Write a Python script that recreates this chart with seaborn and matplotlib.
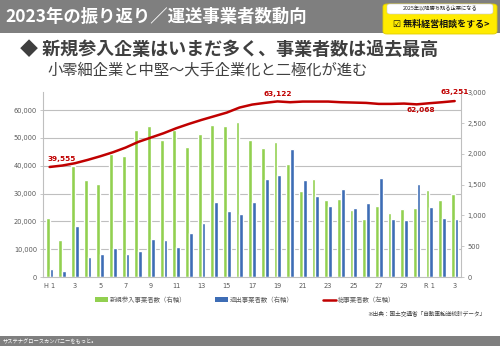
import numpy as np
import pandas as pd
import matplotlib
matplotlib.use("Agg")
import matplotlib.pyplot as plt
import seaborn as sns
from matplotlib.patches import Rectangle, FancyBboxPatch, Patch
from matplotlib.lines import Line2D

# ---------------- data ----------------
years = ["H1", "H2", "H3", "H4", "H5", "H6", "H7", "H8", "H9", "H10",
         "H11", "H12", "H13", "H14", "H15", "H16", "H17", "H18", "H19", "H20",
         "H21", "H22", "H23", "H24", "H25", "H26", "H27", "H28", "H29", "H30",
         "R1", "R2", "R3"]
new_entrants = [964, 606, 1809, 1576, 1505, 1998, 1971, 2393, 2455, 2231,
                2383, 2117, 2318, 2475, 2448, 2518, 2228, 2101, 2198, 1841,
                1402, 1592, 1251, 1262, 1088, 942, 1153, 1040, 1105, 1115,
                1408, 1251, 1354]
exits = [135, 97, 834, 330, 368, 471, 368, 417, 617, 606,
         487, 720, 883, 1213, 1078, 1023, 1221, 1592, 1652, 2074,
         1581, 1316, 1159, 1430, 1115, 1202, 1608, 937, 926, 1511,
         1143, 953, 942]
total_operators = [39555, 40070, 40900, 42090, 43400, 44840, 46520, 48560, 50120, 51680,
                   53475, 55030, 56470, 57790, 59110, 60910, 61990, 62590, 63122, 62830,
                   63070, 63070, 63070, 62830, 62710, 62590, 62230, 62230, 62350, 62068,
                   62470, 62830, 63251]
xtick_labels = ["H 1", "", "3", "", "5", "", "7", "", "9", "", "11", "", "13", "",
                "15", "", "17", "", "19", "", "21", "", "23", "", "25", "", "27", "",
                "29", "", "R 1", "", "3"]
left_ticks = [0, 10000, 20000, 30000, 40000, 50000, 60000]
right_ticks = [0, 500, 1000, 1500, 2000, 2500, 3000]
series_names = ["新規参入事業者数（右軸）", "退出事業者数（右軸）", "総事業者数（左軸）"]
point_labels = {0: "39,555", 18: "63,122", 29: "62,068", 32: "63,251"}

# ---------------- style ----------------
sns.set_style("white")
plt.rcParams["font.family"] = ["Noto Sans CJK JP", "DejaVu Sans"]

GREEN = "#92D050"
BLUE = "#3E6DB5"
RED = "#C00000"
GRID = "#BFBFBF"
TXT = "#595959"

fig = plt.figure(figsize=(5.0, 3.46), dpi=100)
W, H = 500, 346

# header bar
fig.patches.append(Rectangle((0, 1 - 33 / H), 1, 33 / H, transform=fig.transFigure,
                             facecolor="#7F7F7F", edgecolor="none", zorder=0))
fig.text(0.010, 1 - 17 / H, "2023年の振り返り／運送事業者数動向", color="white",
         fontsize=12.5, fontweight="bold", va="center", ha="left")

# yellow button
fig.patches.append(FancyBboxPatch((383 / W, 1 - 34 / H), 114 / W, 30 / H,
                                  boxstyle="round,pad=0,rounding_size=0.008",
                                  transform=fig.transFigure, facecolor="#FFEB00",
                                  edgecolor="#E0CC00", lw=0.6, zorder=1))
fig.patches.append(FancyBboxPatch((387 / W, 1 - 14 / H), 106 / W, 10 / H,
                                  boxstyle="round,pad=0,rounding_size=0.006",
                                  transform=fig.transFigure, facecolor="white",
                                  edgecolor="#CCCCCC", lw=0.4, zorder=2))
fig.text(440 / W, 1 - 9 / H, "2025年以降勝ち残る企業になる", fontsize=3.8,
         color="#222222", ha="center", va="center", zorder=3)
fig.text(441 / W, 1 - 24 / H, "☑ 無料経営相談をする>", fontsize=6.5, fontweight="bold",
         color="#111111", ha="center", va="center", zorder=3)

# subtitles
fig.text(20 / W, 1 - 49 / H, "◆ 新規参入企業はいまだ多く、事業者数は過去最高",
         fontsize=13, fontweight="bold", color="#3F3F3F", ha="left", va="center")
fig.text(47 / W, 1 - 70 / H, "小零細企業と中堅～大手企業化と二極化が進む",
         fontsize=11, color="#404040", ha="left", va="center")

# ---------------- chart ----------------
ax = fig.add_axes([43.3 / W, 1 - 277 / H, (461 - 43.3) / W, (277 - 92.3) / H])
ax2 = ax.twinx()

LEFT_MAX = 66400
RIGHT_MAX = 3000

df = pd.DataFrame({
    "year": years * 2,
    "value": new_entrants + exits,
    "series": [series_names[0]] * len(years) + [series_names[1]] * len(years),
})
sns.barplot(data=df, x="year", y="value", hue="series", order=years,
            hue_order=series_names[:2], palette=[GREEN, BLUE], width=0.6, gap=0,
            saturation=1, errorbar=None, legend=False, ax=ax, zorder=2)

# gridlines belong to the left axis scale
for v in left_ticks[1:]:
    ax.axhline(v * RIGHT_MAX / LEFT_MAX, color=GRID, lw=0.8, zorder=0)

ax.set_ylim(0, RIGHT_MAX)
ax.set_xlim(-0.5, len(years) - 0.5)
ax.yaxis.tick_right()
ax.set_yticks(right_ticks)
ax.set_yticklabels([f"{v:,}" for v in right_ticks], family="DejaVu Sans",
                   fontsize=4.8, color=TXT)
ax.set_xticks(range(len(years)))
ax.set_xticklabels(xtick_labels, family="DejaVu Sans", fontsize=4.8, color=TXT)
ax.set_xticks(np.arange(len(years) + 1) - 0.5, minor=True)
ax.tick_params(axis="x", which="major", length=0, pad=4)
ax.tick_params(axis="x", which="minor", length=2.5, color=GRID, width=0.6)
ax.tick_params(axis="y", length=2.5, color=GRID, width=0.6, pad=2)
ax.set_xlabel("")
ax.set_ylabel("")
for s in ["left", "right", "bottom"]:
    ax.spines[s].set_visible(True)
    ax.spines[s].set_color(GRID)
    ax.spines[s].set_linewidth(0.8)
ax.spines["top"].set_visible(False)

# total operators line on the left axis
sns.lineplot(x=np.arange(len(years)), y=total_operators, ax=ax2, color=RED, lw=1.8,
             zorder=5)
ax2.set_ylim(0, LEFT_MAX)
ax2.set_xlim(-0.5, len(years) - 0.5)
ax2.yaxis.tick_left()
ax2.set_yticks(left_ticks)
ax2.set_yticklabels([f"{v:,}" for v in left_ticks], family="DejaVu Sans",
                    fontsize=4.8, color=TXT)
ax2.tick_params(axis="y", length=2.5, color=GRID, width=0.6, pad=2)
ax2.set_xlabel("")
ax2.set_ylabel("")
for s in ax2.spines.values():
    s.set_visible(False)

offsets = {0: (-1.2, 5.8, "left"), 18: (0, 5.4, "center"),
           29: (2.8, -4.2, "center"), 32: (0, 6.4, "center")}
for i, txt in point_labels.items():
    dx, dy, ha = offsets[i]
    ax2.annotate(txt, xy=(i, total_operators[i]), xytext=(dx, dy),
                 textcoords="offset points", ha=ha, va="center",
                 fontsize=5.3, fontweight="bold", color=RED,
                 family="DejaVu Sans")

# legend
handles = [Patch(facecolor=GREEN, edgecolor="none"),
           Patch(facecolor=BLUE, edgecolor="none"),
           Line2D([0], [0], color=RED, lw=1.8)]
fig.legend(handles, series_names, loc="center", bbox_to_anchor=(0.49, 1 - 300 / H),
           ncol=3, frameon=False, fontsize=4.6, handlelength=2.0, handleheight=0.8,
           columnspacing=4.6, handletextpad=0.3, labelcolor=TXT)

fig.text(485 / W, 1 - 313 / H, "※出典：国土交通省「自動車輸送統計データ」",
         fontsize=4.1, color="#404040", ha="right", va="center")

# footer
fig.patches.append(Rectangle((0, 0), 1, 10 / H, transform=fig.transFigure,
                             facecolor="#7F7F7F", edgecolor="none", zorder=0))
fig.text(3 / W, 5 / H, "サステナグロースカンパニーをもっと。", fontsize=3.8,
         color="white", ha="left", va="center")

fig.savefig("out.png", dpi=100)
